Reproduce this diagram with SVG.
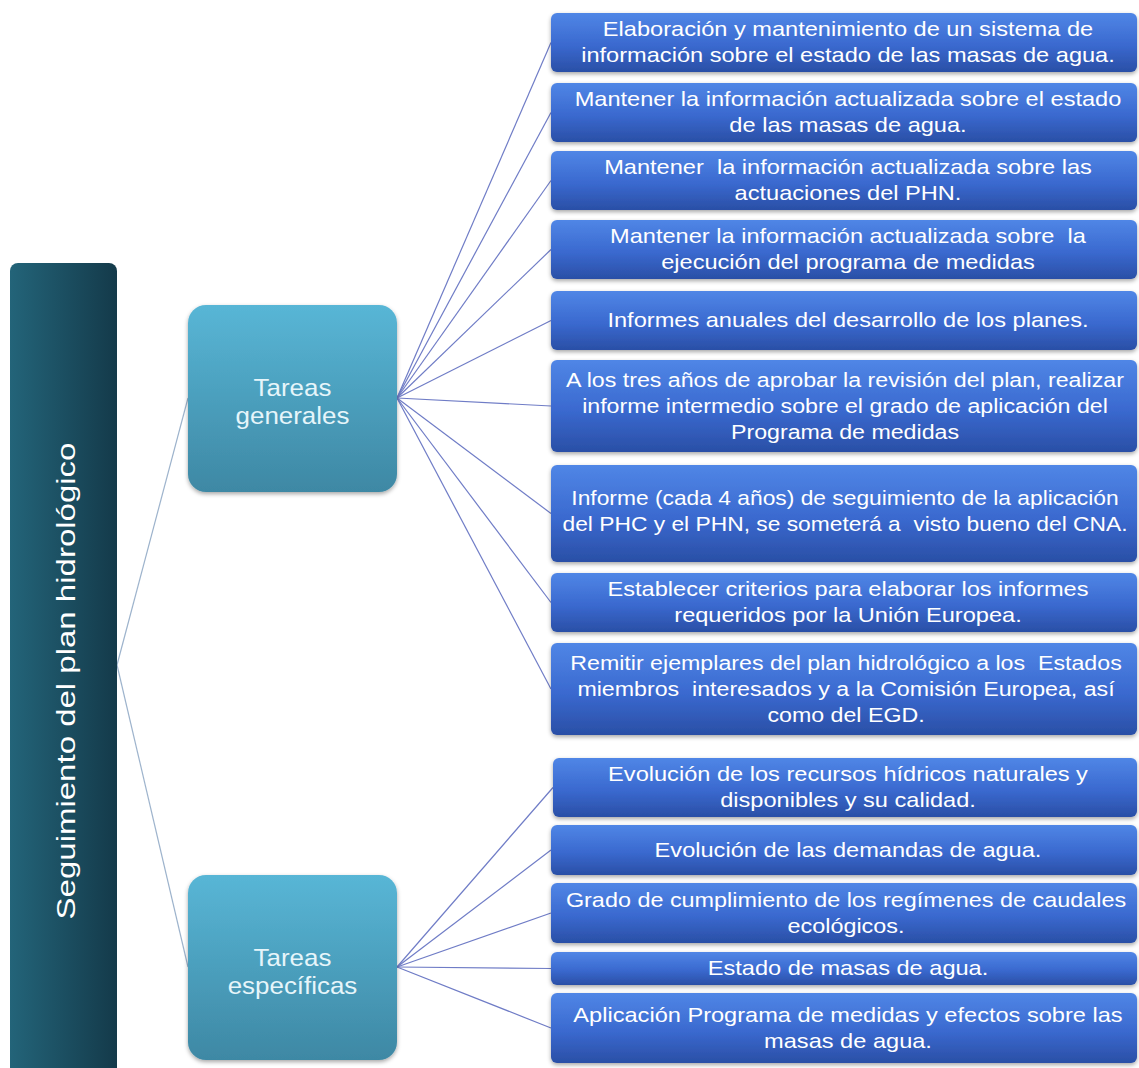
<svg xmlns="http://www.w3.org/2000/svg" width="1139" height="1068" viewBox="0 0 1139 1068">
<defs>
<linearGradient id="gRoot" x1="0" y1="0" x2="1" y2="0"><stop offset="0" stop-color="#236479"/><stop offset="1" stop-color="#143a4a"/></linearGradient>
<linearGradient id="gMid" x1="0" y1="0" x2="0" y2="1"><stop offset="0" stop-color="#58b6d6"/><stop offset="1" stop-color="#3e88a4"/></linearGradient>
<linearGradient id="gLeaf" x1="0" y1="0" x2="0" y2="1"><stop offset="0" stop-color="#5086e6"/><stop offset="0.55" stop-color="#3a69cf"/><stop offset="1" stop-color="#2a4fa6"/></linearGradient>
<filter id="sh" x="-10%" y="-20%" width="120%" height="150%"><feDropShadow dx="0" dy="2" stdDeviation="2" flood-color="#000" flood-opacity="0.35"/></filter>
</defs>
<style>
.leaf{fill:url(#gLeaf);filter:url(#sh)}
.mid{fill:url(#gMid);filter:url(#sh)}
.lt{font-family:"Liberation Sans",Arial,sans-serif;font-size:20px;fill:#ffffff;text-anchor:middle}
.mt{font-family:"Liberation Sans",Arial,sans-serif;font-size:24px;fill:#e6f5fa;text-anchor:middle}
.rt{font-family:"Liberation Sans",Arial,sans-serif;font-size:25px;fill:#ffffff;text-anchor:middle}
.c1{stroke:#9db3cc;stroke-width:1.2;fill:none}
.c2{stroke:#6f7cc6;stroke-width:1.2;fill:none}
</style>
<rect width="1139" height="1068" fill="#ffffff"/>

<g id="connectors">
<line class="c1" x1="117" y1="665" x2="188" y2="398"/>
<line class="c1" x1="117" y1="665" x2="188" y2="967"/>
<line class="c2" x1="397" y1="398" x2="551" y2="42.5"/>
<line class="c2" x1="397" y1="398" x2="551" y2="112.5"/>
<line class="c2" x1="397" y1="398" x2="551" y2="180.5"/>
<line class="c2" x1="397" y1="398" x2="551" y2="249.5"/>
<line class="c2" x1="397" y1="398" x2="551" y2="320.5"/>
<line class="c2" x1="397" y1="398" x2="551" y2="406"/>
<line class="c2" x1="397" y1="398" x2="551" y2="513.5"/>
<line class="c2" x1="397" y1="398" x2="551" y2="602.5"/>
<line class="c2" x1="397" y1="398" x2="551" y2="689"/>
<line class="c2" x1="397" y1="967" x2="553" y2="787.5"/>
<line class="c2" x1="397" y1="967" x2="551" y2="850"/>
<line class="c2" x1="397" y1="967" x2="551" y2="913"/>
<line class="c2" x1="397" y1="967" x2="551" y2="968.5"/>
<line class="c2" x1="397" y1="967" x2="551" y2="1028"/>
</g>

<g id="root">
<rect x="10" y="263" width="107" height="820" rx="8" fill="url(#gRoot)"/>
<g transform="translate(75,681) rotate(-90) scale(1.32,1)"><text class="rt" x="0" y="0">Seguimiento del plan hidrológico</text></g>
</g>

<g id="tareas-generales">
<rect class="mid" x="188" y="305" width="209" height="187" rx="18"/>
<g transform="translate(292.5,0) scale(1.08,1)"><text class="mt" x="0" y="396">Tareas</text><text class="mt" x="0" y="424">generales</text></g>
</g>

<g id="tareas-especificas">
<rect class="mid" x="188" y="875" width="209" height="185" rx="18"/>
<g transform="translate(292.5,0) scale(1.08,1)"><text class="mt" x="0" y="966">Tareas</text><text class="mt" x="0" y="994">específicas</text></g>
</g>

<g id="n1">
<rect class="leaf" x="551" y="13" width="586" height="59" rx="6"/>
<g transform="translate(848,0) scale(1.18,1)"><text class="lt" x="0" y="36.5">Elaboración y mantenimiento de un sistema de</text><text class="lt" x="0" y="62.5">información sobre el estado de las masas de agua.</text></g>
</g>
<g id="n2">
<rect class="leaf" x="551" y="83" width="586" height="59" rx="6"/>
<g transform="translate(848,0) scale(1.18,1)"><text class="lt" x="0" y="106.5">Mantener la información actualizada sobre el estado</text><text class="lt" x="0" y="132.5">de las masas de agua.</text></g>
</g>
<g id="n3">
<rect class="leaf" x="551" y="151" width="586" height="59" rx="6"/>
<g transform="translate(848,0) scale(1.18,1)"><text class="lt" x="0" y="174.5" xml:space="preserve">Mantener  la información actualizada sobre las</text><text class="lt" x="0" y="200.5">actuaciones del PHN.</text></g>
</g>
<g id="n4">
<rect class="leaf" x="551" y="220" width="586" height="59" rx="6"/>
<g transform="translate(848,0) scale(1.18,1)"><text class="lt" x="0" y="243.5" xml:space="preserve">Mantener la información actualizada sobre  la</text><text class="lt" x="0" y="269.5">ejecución del programa de medidas</text></g>
</g>
<g id="n5">
<rect class="leaf" x="551" y="291" width="586" height="59" rx="6"/>
<g transform="translate(848,0) scale(1.18,1)"><text class="lt" x="0" y="327.5">Informes anuales del desarrollo de los planes.</text></g>
</g>
<g id="n6">
<rect class="leaf" x="551" y="360" width="586" height="92" rx="6"/>
<g transform="translate(845,0) scale(1.16,1)"><text class="lt" x="0" y="387">A los tres años de aprobar la revisión del plan, realizar</text><text class="lt" x="0" y="413">informe intermedio sobre el grado de aplicación del</text><text class="lt" x="0" y="439">Programa de medidas</text></g>
</g>
<g id="n7">
<rect class="leaf" x="551" y="465" width="586" height="97" rx="6"/>
<g transform="translate(845,0) scale(1.14,1)"><text class="lt" x="0" y="505">Informe (cada 4 años) de seguimiento de la aplicación</text><text class="lt" x="0" y="531" xml:space="preserve">del PHC y el PHN, se someterá a  visto bueno del CNA.</text></g>
</g>
<g id="n8">
<rect class="leaf" x="551" y="573" width="586" height="59" rx="6"/>
<g transform="translate(848,0) scale(1.18,1)"><text class="lt" x="0" y="596.5">Establecer criterios para elaborar los informes</text><text class="lt" x="0" y="622.5">requeridos por la Unión Europea.</text></g>
</g>
<g id="n9">
<rect class="leaf" x="551" y="643" width="586" height="92" rx="6"/>
<g transform="translate(846,0) scale(1.16,1)"><text class="lt" x="0" y="670" xml:space="preserve">Remitir ejemplares del plan hidrológico a los  Estados</text><text class="lt" x="0" y="696" xml:space="preserve">miembros  interesados y a la Comisión Europea, así</text><text class="lt" x="0" y="722">como del EGD.</text></g>
</g>
<g id="n10">
<rect class="leaf" x="553" y="758" width="584" height="59" rx="6"/>
<g transform="translate(848,0) scale(1.18,1)"><text class="lt" x="0" y="781.5">Evolución de los recursos hídricos naturales y</text><text class="lt" x="0" y="807.5">disponibles y su calidad.</text></g>
</g>
<g id="n11">
<rect class="leaf" x="551" y="825" width="586" height="50" rx="6"/>
<g transform="translate(848,0) scale(1.18,1)"><text class="lt" x="0" y="857">Evolución de las demandas de agua.</text></g>
</g>
<g id="n12">
<rect class="leaf" x="551" y="883" width="586" height="60" rx="6"/>
<g transform="translate(846,0) scale(1.17,1)"><text class="lt" x="0" y="907">Grado de cumplimiento de los regímenes de caudales</text><text class="lt" x="0" y="933">ecológicos.</text></g>
</g>
<g id="n13">
<rect class="leaf" x="551" y="952" width="586" height="33" rx="6"/>
<g transform="translate(848,0) scale(1.18,1)"><text class="lt" x="0" y="975.5">Estado de masas de agua.</text></g>
</g>
<g id="n14">
<rect class="leaf" x="551" y="993" width="586" height="70" rx="6"/>
<g transform="translate(848,0) scale(1.18,1)"><text class="lt" x="0" y="1022">Aplicación Programa de medidas y efectos sobre las</text><text class="lt" x="0" y="1048">masas de agua.</text></g>
</g>
</svg>
